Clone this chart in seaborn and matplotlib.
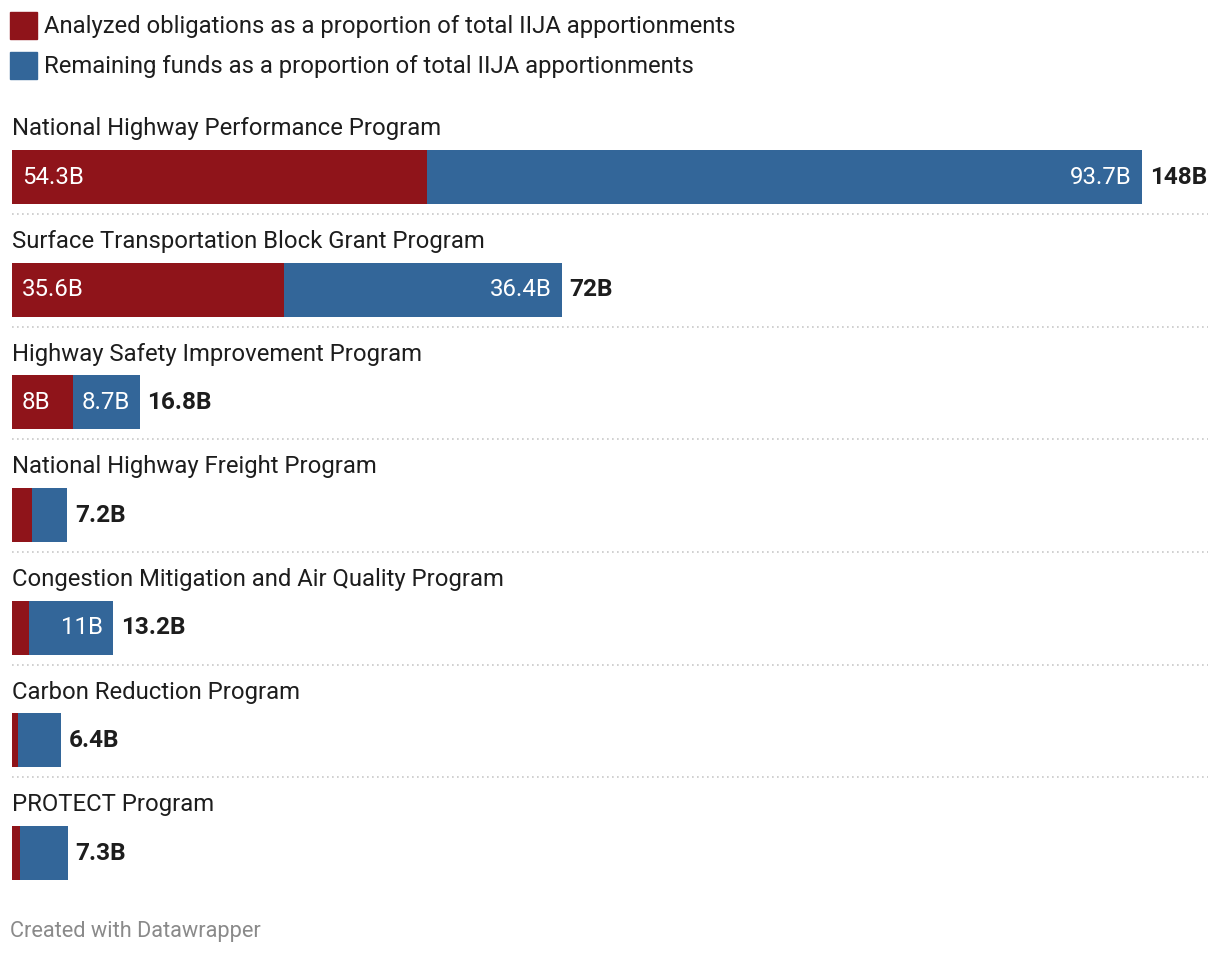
import pandas as pd
import matplotlib.pyplot as plt
import seaborn as sns
from matplotlib.patches import Rectangle

programs = [
    "National Highway Performance Program",
    "Surface Transportation Block Grant Program",
    "Highway Safety Improvement Program",
    "National Highway Freight Program",
    "Congestion Mitigation and Air Quality Program",
    "Carbon Reduction Program",
    "PROTECT Program",
]
obligated = [54.3, 35.6, 8.0, 2.6, 2.2, 0.8, 1.0]
remaining = [93.7, 36.4, 8.7, 4.6, 11.0, 5.6, 6.3]
total_labels = ["148B", "72B", "16.8B", "7.2B", "13.2B", "6.4B", "7.3B"]
obligated_labels = ["54.3B", "35.6B", "8B", "", "", "", ""]
remaining_labels = ["93.7B", "36.4B", "8.7B", "", "11B", "", ""]

RED = "#8f141a"
BLUE = "#336699"

df = pd.DataFrame({"program": programs, "obligated": obligated, "remaining": remaining})
df["total"] = df["obligated"] + df["remaining"]

sns.set_style("white")
plt.rcParams["font.family"] = ["Roboto", "DejaVu Sans"]

W, H = 1220, 958
fig = plt.figure(figsize=(W / 100, H / 100), dpi=100)

# axes placed so bars run from x=12px, row centres 177..853px
px_per_unit = 1130 / 148.0
row_step = (853 - 177) / 6.0
top_px, bot_px = 100, 900
ax = fig.add_axes([12 / W, 1 - bot_px / H, 1130 / W, (bot_px - top_px) / H])

bar_h = 54 / row_step
sns.barplot(data=df, x="total", y="program", color=BLUE, width=bar_h,
            orient="h", ax=ax, saturation=1, linewidth=0)
sns.barplot(data=df, x="obligated", y="program", color=RED, width=bar_h,
            orient="h", ax=ax, saturation=1, linewidth=0)

ax.set_xlim(0, 148)
ax.set_ylim(6 + (bot_px - 853) / row_step, -(177 - top_px) / row_step)
ax.axis("off")

pad = 10 / px_per_unit
for i, row in df.iterrows():
    # category title above the bar
    ax.text(0, i - 48 / row_step, row["program"], fontsize=17.2, color="#1d1d1d",
            va="center", ha="left", clip_on=False)
    if obligated_labels[i]:
        ax.text(pad, i, obligated_labels[i], fontsize=17.3, color="white",
                va="center", ha="left")
    if remaining_labels[i]:
        ax.text(row["total"] - pad, i, remaining_labels[i], fontsize=17.3,
                color="white", va="center", ha="right")
    ax.text(row["total"] + 8 / px_per_unit, i, total_labels[i], fontsize=17.6,
            fontweight="bold", color="#1d1d1d", va="center", ha="left",
            clip_on=False)
    if i < len(df) - 1:
        ax.plot([0, (1208 - 12) / px_per_unit], [i + 37 / row_step] * 2,
                linestyle=(0, (1, 2)), color="#c8c8c8", linewidth=1.2,
                clip_on=False)

# legend
legend_items = [
    (RED, "Analyzed obligations as a proportion of total IIJA apportionments", 12),
    (BLUE, "Remaining funds as a proportion of total IIJA apportionments", 52),
]
for color, label, ytop in legend_items:
    fig.patches.append(Rectangle((10 / W, 1 - (ytop + 27) / H), 27 / W, 27 / H,
                                 transform=fig.transFigure, color=color))
    fig.text(44 / W, 1 - (ytop + 14) / H, label, fontsize=17.2,
             color="#1d1d1d", va="center", ha="left")

fig.text(10 / W, 1 - 932 / H, "Created with Datawrapper", fontsize=15.7,
         color="#8a8a8a", va="center", ha="left")

fig.savefig("out.png", dpi=100, facecolor="white")
